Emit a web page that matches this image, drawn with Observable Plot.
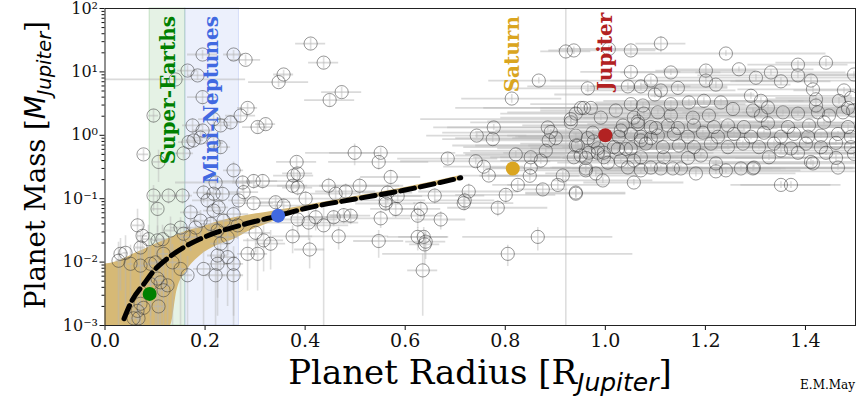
<!DOCTYPE html>
<html>
<head>
<meta charset="utf-8">
<script src="https://cdn.jsdelivr.net/npm/d3@7"></script>
<script src="https://cdn.jsdelivr.net/npm/@observablehq/plot@0.6"></script>
<style>
  html, body { margin: 0; padding: 0; background: #fff; }
  #chart { width: 864px; height: 396px; }
</style>
</head>
<body>
<div id="chart"></div>
<script>
// ---------- DATA (radius [R_J], mass [M_J], radius error, mass error) ----------
const smallPlanets = [
  [0.097, 2.05, 0.01, 0.5], [0.165, 10.5, 0.02, 2], [0.185, 8.8, 0.02, 1.5], [0.195, 18.8, 0.03, 3],
  [0.257, 18.8, 0.02, 3], [0.281, 15.5, 0.03, 3], [0.357, 9.1, 0.02, 1.5], [0.347, 6.9, 0.06, 1.2],
  [0.141, 7.6, 0.14, 1], [0.195, 4.0, 0.03, 1], [0.175, 1.43, 0.02, 0.4], [0.195, 1.19, 0.02, 0.3],
  [0.217, 1.8, 0.03, 0.4], [0.231, 1.43, 0.02, 0.3], [0.251, 1.6, 0.02, 0.4], [0.271, 2.05, 0.03, 0.5],
  [0.285, 2.7, 0.02, 0.5], [0.305, 1.35, 0.03, 0.3], [0.321, 1.5, 0.02, 0.3], [0.177, 0.83, 0.02, 0.2],
  [0.191, 0.92, 0.02, 0.2], [0.217, 0.75, 0.02, 0.2], [0.231, 0.65, 0.02, 0.15], [0.157, 0.52, 0.02, 0.1],
  [0.107, 0.38, 0.01, 0.2], [0.077, 0.5, 0.01, 0.1], [0.257, 0.28, 0.02, 0.1], [0.275, 0.18, 0.02, 0.05],
  [0.297, 0.19, 0.1, 0.05], [0.315, 0.19, 0.03, 0.05], [0.221, 0.18, 0.08, 0.05], [0.197, 0.125, 0.02, 0.04],
  [0.217, 0.12, 0.02, 0.03], [0.097, 0.112, 0.01, 0.05], [0.127, 0.112, 0.02, 0.03], [0.155, 0.112, 0.02, 0.03],
  [0.383, 0.38, 0.04, 0.08], [0.385, 0.25, 0.03, 0.06], [0.385, 0.15, 0.03, 0.04], [0.105, 0.069, 0.01, 0.04],
  [0.167, 0.78, 0.02, 0.2], [0.171, 0.061, 0.02, 0.02], [0.191, 0.045, 0.02, 0.02], [0.205, 0.094, 0.03, 0.03],
  [0.217, 0.065, 0.02, 0.02], [0.235, 0.119, 0.03, 0.04], [0.227, 0.073, 0.02, 0.02], [0.277, 0.127, 0.03, 0.04],
  [0.267, 0.094, 0.02, 0.03], [0.297, 0.085, 0.04, 0.02], [0.341, 0.088, 0.03, 0.02], [0.357, 0.078, 0.05, 0.02],
  [0.377, 0.232, 0.04, 0.05], [0.375, 0.16, 0.03, 0.04], [0.065, 0.038, 0.01, 0.03], [0.075, 0.026, 0.01, 0.02],
  [0.087, 0.023, 0.01, 0.015], [0.071, 0.017, 0.01, 0.012], [0.115, 0.023, 0.01, 0.015], [0.131, 0.0315, 0.01, 0.02],
  [0.151, 0.035, 0.02, 0.015], [0.157, 0.028, 0.01, 0.012], [0.171, 0.0247, 0.02, 0.01], [0.181, 0.035, 0.02, 0.012],
  [0.211, 0.040, 0.02, 0.015], [0.225, 0.0315, 0.02, 0.012], [0.237, 0.045, 0.02, 0.015], [0.245, 0.0247, 0.02, 0.012],
  [0.257, 0.057, 0.03, 0.02], [0.265, 0.038, 0.02, 0.015], [0.231, 0.0195, 0.02, 0.012], [0.225, 0.0127, 0.02, 0.01],
  [0.245, 0.012, 0.02, 0.01], [0.257, 0.0094, 0.02, 0.008], [0.221, 0.0062, 0.02, 0.006], [0.257, 0.0062, 0.02, 0.006],
  [0.285, 0.0135, 0.02, 0.01], [0.305, 0.0135, 0.02, 0.01], [0.317, 0.022, 0.04, 0.015], [0.331, 0.0195, 0.03, 0.012],
  [0.301, 0.029, 0.03, 0.015], [0.031, 0.0135, 0.005, 0.01], [0.041, 0.014, 0.005, 0.012], [0.051, 0.0094, 0.005, 0.009],
  [0.071, 0.0088, 0.01, 0.008], [0.091, 0.0094, 0.01, 0.008], [0.101, 0.0099, 0.01, 0.009], [0.117, 0.0135, 0.01, 0.012],
  [0.135, 0.0099, 0.01, 0.009], [0.091, 0.0045, 0.01, 0.004], [0.105, 0.0055, 0.01, 0.005], [0.111, 0.0048, 0.01, 0.004],
  [0.117, 0.0036, 0.01, 0.003], [0.065, 0.0017, 0.005, 0.0015], [0.077, 0.0019, 0.005, 0.0015], [0.067, 0.0013, 0.005, 0.001],
  [0.027, 0.0105, 0.005, 0.01], [0.105, 0.022, 0.01, 0.015], [0.107, 0.002, 0.01, 0.0015], [0.071, 0.0022, 0.005, 0.002],
  [0.057, 0.0013, 0.005, 0.001], [0.125, 0.0043, 0.01, 0.004], [0.151, 0.0078, 0.01, 0.007], [0.165, 0.0062, 0.01, 0.006],
  [0.197, 0.0078, 0.02, 0.007], [0.225, 0.0094, 0.02, 0.008], [0.375, 0.0255, 0.04, 0.012]
];

const warmPlanets = [
  [0.411, 28, 0.03, 6], [0.437, 14, 0.03, 3], [0.449, 3.6, 0.05, 0.8], [0.473, 4.8, 0.04, 1],
  [0.401, 0.1, 0.12, 0.03], [0.385, 0.047, 0.08, 0.02], [0.421, 0.051, 0.05, 0.02], [0.457, 0.051, 0.05, 0.015],
  [0.477, 0.055, 0.03, 0.015], [0.491, 0.054, 0.04, 0.015], [0.437, 0.038, 0.05, 0.05], [0.407, 0.042, 0.1, 0.02],
  [0.467, 0.0255, 0.1, 0.01], [0.547, 0.0215, 0.05, 0.01], [0.625, 0.025, 0.06, 0.01], [0.639, 0.019, 0.03, 0.01],
  [0.409, 0.0158, 0.03, 0.008], [0.551, 0.049, 0.06, 0.015], [0.561, 0.084, 0.06, 0.02], [0.581, 0.069, 0.05, 0.02],
  [0.625, 0.054, 0.05, 0.02], [0.631, 0.069, 0.04, 0.02], [0.671, 0.047, 0.05, 0.015], [0.717, 0.085, 0.1, 0.02],
  [0.785, 0.072, 0.1, 0.02], [0.637, 0.025, 0.05, 0.01], [0.641, 0.021, 0.04, 0.01], [0.635, 0.0074, 0.03, 0.006],
  [0.805, 0.0135, 0.25, 0.005], [0.865, 0.025, 0.15, 0.01], [0.499, 0.53, 0.05, 0.2], [0.551, 0.53, 0.15, 0.1],
  [0.547, 0.38, 0.1, 0.1], [0.447, 0.16, 0.15, 0.05], [0.509, 0.16, 0.08, 0.05], [0.481, 0.13, 0.06, 0.04],
  [0.461, 0.12, 0.05, 0.03], [0.571, 0.22, 0.06, 0.06], [0.565, 0.125, 0.05, 0.04], [0.585, 0.11, 0.05, 0.03],
  [0.561, 0.094, 0.08, 0.03], [0.659, 0.112, 0.1, 0.03], [0.685, 0.43, 0.1, 0.08], [0.727, 0.13, 0.1, 0.04],
  [0.719, 0.094, 0.06, 0.03], [0.743, 0.99, 0.1, 0.1], [0.741, 0.39, 0.15, 0.05], [0.757, 0.32, 0.08, 0.05],
  [0.767, 0.232, 0.06, 0.04], [0.801, 0.115, 0.1, 0.03], [0.825, 0.165, 0.05, 0.03], [0.849, 0.23, 0.1, 0.04],
  [0.851, 0.31, 0.08, 0.04], [0.821, 0.5, 0.1, 0.06], [0.851, 0.45, 0.06, 0.05], [0.881, 0.57, 0.15, 0.06],
  [0.871, 0.40, 0.08, 0.05], [0.875, 0.14, 0.05, 0.03], [0.777, 1.33, 0.12, 0.15], [0.775, 0.87, 0.1, 0.1],
  [0.885, 1.33, 0.2, 0.15], [0.891, 1.13, 0.15, 0.1], [0.867, 7.3, 0.1, 0.8], [0.813, 3.8, 0.1, 0.6],
  [0.887, 0.83, 0.15, 0.1], [0.901, 0.9, 0.2, 0.1]
];

const giantPlanets = [
  [0.905, 0.165, 0.1, 0.03], [0.915, 0.232, 0.15, 0.04], [0.941, 0.12, 0.1, 0.02], [0.921, 21, 0.05, 90],
  [0.937, 21.8, 0.05, 3], [0.965, 5.5, 0.15, 0.8], [0.931, 1.6, 0.2, 0.2], [0.941, 2.2, 0.15, 0.3],
  [0.957, 2.7, 0.2, 0.3], [0.971, 2.7, 0.1, 0.3], [0.991, 1.9, 0.2, 0.2], [1.021, 2.46, 0.15, 0.3],
  [1.057, 1.9, 0.1, 0.2], [1.075, 2.95, 0.1, 0.3], [0.941, 0.69, 0.2, 0.07], [0.965, 0.9, 0.15, 0.1],
  [0.977, 0.8, 0.1, 0.08], [0.951, 0.48, 0.25, 0.05], [0.961, 0.44, 0.1, 0.05], [0.985, 0.53, 0.15, 0.05],
  [0.997, 0.53, 0.2, 0.05], [1.005, 0.37, 0.1, 0.04], [1.025, 0.61, 0.2, 0.06], [1.041, 0.61, 0.1, 0.06],
  [1.031, 1.19, 0.25, 0.12], [1.051, 1.05, 0.15, 0.1], [1.065, 1.5, 0.1, 0.15], [1.071, 0.83, 0.2, 0.08],
  [1.091, 0.9, 0.15, 0.09], [1.101, 1.3, 0.1, 0.13], [1.045, 0.31, 0.15, 0.03], [1.071, 0.28, 0.1, 0.03],
  [1.091, 0.31, 0.2, 0.03], [1.057, 0.4, 0.1, 0.04], [0.961, 0.28, 0.15, 0.03], [0.981, 0.25, 0.1, 0.03],
  [0.995, 0.194, 0.1, 0.02], [1.057, 0.18, 0.1, 0.02], [1.111, 28, 0.05, 8], [1.051, 21.8, 0.05, 4],
  [1.241, 19.5, 0.2, 2], [1.131, 9.8, 0.1, 1], [1.051, 10, 0.1, 2], [1.201, 10.5, 0.1, 2],
  [1.267, 11, 0.15, 1], [1.301, 8.1, 0.2, 1], [1.331, 9.8, 0.15, 1], [1.351, 7.1, 0.1, 1],
  [1.385, 8.8, 0.2, 1], [1.385, 13, 0.1, 2], [1.441, 14, 0.1, 2], [1.411, 7.3, 0.15, 1],
  [1.497, 9.1, 0.1, 1], [1.091, 7.3, 0.2, 1], [1.045, 5.9, 0.2, 0.8], [1.071, 5.9, 0.1, 0.8],
  [1.111, 5.1, 0.15, 0.7], [1.145, 5.6, 0.1, 0.7], [1.221, 6.3, 0.15, 0.8], [1.201, 7.3, 0.2, 1],
  [1.415, 5.3, 0.15, 0.7], [1.477, 5.1, 0.1, 0.6], [1.007, 23, 0.1, 3], [1.099, 4.4, 0.2, 0.5],
  [1.131, 3.1, 0.15, 0.4], [1.167, 3.3, 0.1, 0.4], [1.197, 3.5, 0.2, 0.4], [1.231, 3.3, 0.25, 0.4],
  [1.291, 4.2, 0.2, 0.5], [1.311, 3.5, 0.1, 0.4], [1.325, 2.75, 0.15, 0.3], [1.421, 3.7, 0.1, 0.4],
  [1.421, 2.95, 0.2, 0.3], [1.491, 3.9, 0.15, 0.4], [1.467, 3.5, 0.1, 0.4], [1.485, 2.7, 0.2, 0.3],
  [0.951, 2.7, 0.25, 0.3], [1.051, 3.1, 0.2, 0.3], [1.077, 2.2, 0.15, 0.2], [1.105, 2.3, 0.3, 0.2],
  [1.131, 2.05, 0.2, 0.2], [1.175, 1.9, 0.25, 0.2], [1.207, 2.05, 0.15, 0.2], [1.255, 2.6, 0.3, 0.3],
  [1.295, 2.46, 0.2, 0.2], [1.311, 2.05, 0.15, 0.2], [1.355, 2.3, 0.2, 0.2], [1.385, 2.2, 0.3, 0.2],
  [1.425, 2.3, 0.15, 0.2], [1.447, 2.05, 0.2, 0.2], [1.475, 2.3, 0.1, 0.2], [1.495, 2.46, 0.2, 0.2],
  [0.931, 1.8, 0.3, 0.2], [1.035, 1.43, 0.2, 0.15], [1.065, 1.65, 0.3, 0.15], [1.091, 1.35, 0.15, 0.15],
  [1.125, 1.43, 0.25, 0.15], [1.145, 1.3, 0.2, 0.15], [1.177, 1.43, 0.3, 0.15], [1.217, 1.35, 0.2, 0.15],
  [1.245, 1.43, 0.25, 0.15], [1.277, 1.35, 0.15, 0.15], [1.325, 1.55, 0.3, 0.15], [1.365, 1.35, 0.2, 0.15],
  [1.407, 1.43, 0.25, 0.15], [1.437, 1.6, 0.15, 0.15], [1.485, 1.35, 0.2, 0.15], [0.941, 0.99, 0.2, 0.1],
  [0.975, 1.1, 0.3, 0.1], [1.027, 0.95, 0.2, 0.1], [1.071, 0.95, 0.25, 0.1], [1.105, 0.99, 0.3, 0.1],
  [1.137, 1.05, 0.2, 0.1], [1.165, 0.95, 0.15, 0.1], [1.195, 1.1, 0.3, 0.1], [1.225, 0.95, 0.2, 0.1],
  [1.257, 1.05, 0.25, 0.1], [1.291, 0.95, 0.3, 0.1], [1.317, 1.1, 0.2, 0.1], [1.351, 0.95, 0.15, 0.1],
  [1.377, 1.05, 0.3, 0.1], [1.405, 0.95, 0.2, 0.1], [1.431, 0.99, 0.25, 0.1], [1.465, 1.05, 0.2, 0.1],
  [1.491, 0.95, 0.3, 0.1], [0.945, 0.69, 0.25, 0.07], [0.985, 0.62, 0.2, 0.06], [1.017, 0.65, 0.3, 0.06],
  [1.051, 0.62, 0.2, 0.06], [1.081, 0.74, 0.25, 0.07], [1.115, 0.65, 0.2, 0.06], [1.147, 0.69, 0.3, 0.07],
  [1.177, 0.65, 0.15, 0.06], [1.211, 0.74, 0.25, 0.07], [1.245, 0.65, 0.2, 0.06], [1.275, 0.74, 0.3, 0.07],
  [1.307, 0.65, 0.2, 0.06], [1.337, 0.74, 0.15, 0.07], [1.371, 0.62, 0.25, 0.06], [1.401, 0.74, 0.2, 0.07],
  [1.431, 0.65, 0.3, 0.06], [1.461, 0.76, 0.2, 0.07], [1.491, 0.65, 0.15, 0.06], [0.937, 0.45, 0.2, 0.05],
  [0.967, 0.53, 0.25, 0.05], [0.997, 0.45, 0.15, 0.05], [1.031, 0.4, 0.2, 0.04], [1.071, 0.45, 0.3, 0.05],
  [1.117, 0.45, 0.2, 0.05], [1.165, 0.44, 0.25, 0.05], [1.191, 0.48, 0.15, 0.05], [1.221, 0.36, 0.2, 0.04],
  [1.271, 0.3, 0.25, 0.03], [1.297, 0.31, 0.2, 0.03], [1.327, 0.45, 0.3, 0.05], [1.351, 0.575, 0.2, 0.06],
  [1.385, 0.53, 0.15, 0.05], [1.411, 0.38, 0.2, 0.04], [1.441, 0.53, 0.25, 0.05], [1.461, 0.44, 0.2, 0.05],
  [1.497, 0.51, 0.15, 0.05], [1.135, 0.3, 0.2, 0.03], [1.241, 0.28, 0.15, 0.03], [0.961, 0.3, 0.2, 0.03],
  [1.111, 0.3, 0.25, 0.03], [1.151, 0.3, 0.2, 0.03], [1.221, 0.27, 0.3, 0.03], [1.295, 0.3, 0.2, 0.03],
  [1.415, 0.36, 0.2, 0.04], [1.465, 0.31, 0.15, 0.03], [1.351, 0.165, 0.1, 0.02], [1.371, 0.165, 0.1, 0.02],
  [0.941, 0.125, 0.1, 0.02], [1.181, 0.25, 0.2, 0.03]
];

// mass-radius relation (dashed) and its uncertainty band
const relationR = [0.038, 0.054, 0.078, 0.098, 0.124, 0.158, 0.191, 0.224, 0.258, 0.291, 0.324, 0.343, 0.4, 0.5, 0.6, 0.711];
const relationM = [0.00128, 0.00248, 0.00455, 0.00736, 0.01127, 0.01718, 0.0233, 0.0296, 0.0355, 0.0421, 0.0487, 0.053, 0.070, 0.099, 0.137, 0.214];
const bandR  = [0, 0.018, 0.038, 0.058, 0.09, 0.124, 0.131, 0.144, 0.164, 0.191, 0.224, 0.258, 0.291, 0.324, 0.358, 0.4, 0.5, 0.6, 0.711];
const bandHi = [0.0093, 0.0099, 0.0113, 0.0135, 0.0175, 0.023, 0.024, 0.027, 0.031, 0.035, 0.043, 0.050, 0.056, 0.061, 0.068, 0.078, 0.108, 0.15, 0.232];
const bandLo = [0.001, 0.001, 0.001, 0.001, 0.001, 0.001, 0.001, 0.0036, 0.0074, 0.0127, 0.0183, 0.023, 0.0316, 0.040, 0.051, 0.064, 0.091, 0.126, 0.197];

// solar-system planets
const solarNames  = ["Earth", "Neptune", "Saturn", "Jupiter"];
const solarR      = [0.0892, 0.346, 0.815, 1.0];
const solarM      = [0.00315, 0.054, 0.299, 1.0];
const solarColors = ["green", "royalblue", "goldenrod", "firebrick"];

// shaded regimes
const zoneNames  = ["Super-Earths", "Mini-Neptunes"];
const zoneR1     = [0.0892, 0.1606];
const zoneR2     = [0.1606, 0.2677];
const zoneColors = ["green", "royalblue"];

// vertical labels
const labelText   = ["Super-Earths", "Mini-Neptunes", "Saturn", "Jupiter"];
const labelR      = [0.128, 0.214, 0.815, 1.0];
const labelTopM   = [76, 76, 76, 86];
const labelColors = ["green", "royalblue", "goldenrod", "firebrick"];

// axes ticks
const xTicks = [0, 0.2, 0.4, 0.6, 0.8, 1.0, 1.2, 1.4];
const yTicks = [1e-3, 1e-2, 1e-1, 1e0, 1e1, 1e2];
const yTickLabels = ["10\u207B\u00B3", "10\u207B\u00B2", "10\u207B\u00B9", "10\u2070", "10\u00B9", "10\u00B2"];
const yMinorFactors = [2, 3, 4, 5, 6, 7, 8, 9];

// ---------- build tables ----------
const planets = [...smallPlanets, ...warmPlanets, ...giantPlanets].map(([r, m, dr, dm]) => ({r, m, dr, dm}));
const relation = relationR.map((r, i) => ({r, m: relationM[i]}));
const band = bandR.map((r, i) => ({r, lo: bandLo[i], hi: bandHi[i]}));
const solar = solarNames.map((n, i) => ({n, r: solarR[i], m: solarM[i], c: solarColors[i]}));
const zones = zoneNames.map((n, i) => ({n, r1: zoneR1[i], r2: zoneR2[i], c: zoneColors[i]}));
const labels = labelText.map((t, i) => ({t, r: labelR[i], m: labelTopM[i], c: labelColors[i]}));
const yMinor = [];
yTicks.slice(0, -1).forEach(d => yMinorFactors.forEach(f => yMinor.push(d * f)));
const yLabelMap = new Map(yTicks.map((v, i) => [v, yTickLabels[i]]));

const serif = "'DejaVu Serif', serif";
const sans = "'DejaVu Sans', sans-serif";
const errColor = "#b5b5b5";

const chart = Plot.plot({
  width: 864,
  height: 396,
  marginLeft: 104.5,
  marginRight: 9,
  marginTop: 8,
  marginBottom: 71,
  style: {fontFamily: serif, fontSize: "19px", background: "white", color: "#111", overflow: "visible"},
  x: {domain: [0, 1.5]},
  y: {type: "log", domain: [1e-3, 1e2]},
  marks: [
    Plot.rect(zones, {x1: "r1", x2: "r2", y1: 1e-3, y2: 1e2, fill: "c", fillOpacity: 0.1, stroke: "c", strokeOpacity: 0.18, strokeWidth: 1}),
    Plot.areaY(band, {x: "r", y1: "lo", y2: "hi", fill: "#d6b976", curve: "monotone-x"}),
    Plot.ruleY(planets, {y: "m", x1: d => d.r - d.dr, x2: d => d.r + d.dr, stroke: errColor, strokeOpacity: 0.5, strokeWidth: 1.8, clip: true}),
    Plot.ruleX(planets, {x: "r", y1: d => Math.max(d.m - d.dm, 1e-5), y2: d => d.m + d.dm, stroke: errColor, strokeOpacity: 0.45, strokeWidth: 1.6, clip: true}),
    Plot.dot(planets, {x: "r", y: "m", r: 6.6, stroke: "#333", strokeOpacity: 0.5, strokeWidth: 1, fill: "none", clip: true}),
    Plot.line(relation, {x: "r", y: "m", stroke: "black", strokeWidth: 5, strokeDasharray: "14,6", curve: "monotone-x"}),
    Plot.dot(solar, {x: "r", y: "m", r: 7, fill: "c", stroke: "none"}),
    Plot.text(labels, {x: "r", y: "m", text: "t", fill: "c", rotate: -90, textAnchor: "end", lineAnchor: "middle",
      fontWeight: "bold", fontSize: 20, fontFamily: serif}),
    Plot.axisX({ticks: xTicks, tickFormat: d3.format(".1f"), tickSize: 5, tickPadding: 3, label: null, fontSize: 19}),
    Plot.axisY({ticks: yTicks, tickFormat: d => yLabelMap.get(d), tickSize: 5, tickPadding: 2, label: null, fontSize: 16}),
    Plot.axisY({ticks: yMinor, tickFormat: () => "", tickSize: 3, label: null}),
    Plot.frame({stroke: "#222", strokeWidth: 1})
  ]
});

document.getElementById("chart").appendChild(chart);

// ---------- axis titles & credit (mathtext-style subscripts) ----------
const svg = d3.select(chart);
const xl = svg.append("text")
  .attr("x", 480).attr("y", 384)
  .attr("text-anchor", "middle")
  .attr("font-family", serif).attr("font-size", 34).attr("fill", "#000");
xl.append("tspan").text("Planet Radius [R");
xl.append("tspan").attr("font-family", sans).attr("font-style", "italic")
  .attr("font-size", 25).attr("dy", 7).text("Jupiter");
xl.append("tspan").attr("dy", -7).text("]");

const yl = svg.append("text")
  .attr("transform", "translate(45,165) rotate(-90)")
  .attr("text-anchor", "middle")
  .attr("font-family", serif).attr("font-size", 27.5).attr("fill", "#000");
yl.append("tspan").text("Planet Mass [");
yl.append("tspan").attr("font-family", sans).attr("font-style", "italic").text("M");
yl.append("tspan").attr("font-family", sans).attr("font-style", "italic")
  .attr("font-size", 19.5).attr("dy", 5.5).text("Jupiter");
yl.append("tspan").attr("dy", -5.5).text("]");

svg.append("text")
  .attr("x", 855).attr("y", 389)
  .attr("text-anchor", "end")
  .attr("font-family", serif).attr("font-size", 12).attr("fill", "#000")
  .text("E.M.May");
</script>
</body>
</html>
